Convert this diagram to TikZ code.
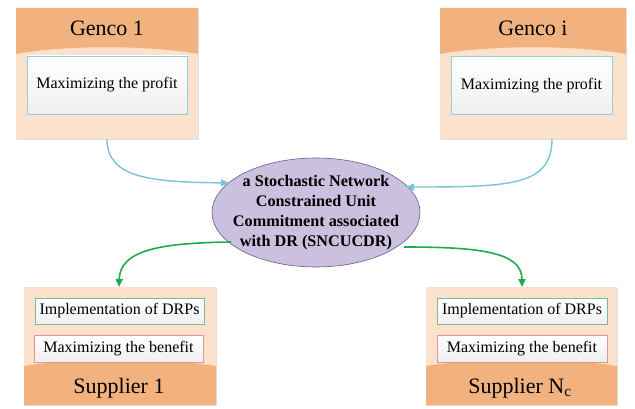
\documentclass[tikz,border=0pt]{standalone}
\usepackage{fontspec}
\setmainfont{Liberation Serif}
\usetikzlibrary{shapes.geometric,arrows.meta,shadows}
\definecolor{hdr}{RGB}{241,178,128}
\definecolor{body}{RGB}{252,225,204}
\definecolor{bluebd}{RGB}{146,205,220}
\definecolor{greenbd}{RGB}{120,190,140}
\definecolor{redbd}{RGB}{225,150,150}
\definecolor{ellfill}{RGB}{203,192,222}
\definecolor{ellbd}{RGB}{95,95,140}
\definecolor{bluearr}{RGB}{120,196,212}
\definecolor{greenarr}{RGB}{30,170,80}
\tikzset{
  outer/.style={fill=body, draw=none, drop shadow={shadow xshift=1pt,shadow yshift=-1pt,opacity=0.25}},
  innerbox/.style={draw=#1, line width=0.8pt, top color=white, bottom color=blue!4!gray!12, inner sep=0pt, font=\fontsize{16}{19}\selectfont, text=black},
  title/.style={font=\fontsize{22}{25}\selectfont, text=black},
  bluearrow/.style={draw=bluearr, line width=1.4pt, -{Triangle[length=8pt,width=7pt]}},
  greenarrow/.style={draw=greenarr, line width=1.6pt, -{Triangle[length=8pt,width=7pt]}},
}
\begin{document}
\begin{tikzpicture}[x=1pt,y=-1pt]
\useasboundingbox (0,0) rectangle (635,409);
% Genco 1
\fill[outer] (16,8) rectangle (198,139);
\fill[hdr] (16,8) -- (198,8) -- (198,54) .. controls (150,45) and (64,45) .. (16,54) -- cycle;
\node[title] (g1t) at (107,28) {Genco 1};
\node[innerbox=bluebd, minimum width=160pt, minimum height=58pt] (g1b) at (107,85) {Maximizing the profit};
\coordinate (g1o) at (107,139);
% Genco i
\fill[outer] (440,8) rectangle (626,139);
\fill[hdr] (440,8) -- (626,8) -- (626,54) .. controls (577,45) and (489,45) .. (440,54) -- cycle;
\node[title] (git) at (533,28) {Genco i};
\node[innerbox=bluebd, minimum width=161pt, minimum height=58pt] (gib) at (531.5,85.5) {Maximizing the profit};
\coordinate (gio) at (552,139);
% Supplier 1
\fill[outer] (24,287) rectangle (216,405);
\fill[hdr] (24,366) .. controls (80,357) and (160,357) .. (216,366) -- (216,405) -- (24,405) -- cycle;
\node[innerbox=greenbd, minimum width=169pt, minimum height=26pt] (s1a) at (119.5,311) {Implementation of DRPs};
\node[innerbox=redbd, minimum width=169pt, minimum height=27pt] (s1b) at (118.5,348.5) {Maximizing the benefit};
\node[title] (s1t) at (119,388) {Supplier 1};
\coordinate (s1i) at (119,287);
% Supplier Nc
\fill[outer] (426,287) rectangle (617,405);
\fill[hdr] (426,366) .. controls (482,357) and (561,357) .. (617,366) -- (617,405) -- (426,405) -- cycle;
\node[innerbox=greenbd, minimum width=170pt, minimum height=26pt] (sna) at (522,311) {Implementation of DRPs};
\node[innerbox=redbd, minimum width=170pt, minimum height=27pt] (snb) at (522,348.5) {Maximizing the benefit};
\node[title] (snt) at (520,388) {Supplier N\textsubscript{c}};
\coordinate (sni) at (522,287);
% Ellipse
\node[ellipse, fill=ellfill, draw=ellbd, line width=0.6pt, minimum width=208pt, minimum height=109pt, inner sep=0pt] (el) at (316,212.5) {};
\node[align=center, font=\bfseries\fontsize{16.2}{20}\selectfont, text=black] (elt) at (316,213) {a Stochastic Network\\Constrained Unit\\Commitment associated\\with DR (SNCUCDR)};
% arrows
\coordinate (e1) at (229,183);
\coordinate (e2) at (406,187);
\coordinate (e3) at (231,242);
\coordinate (e4) at (404,247);
\draw[bluearrow] (g1o) .. controls (107,178) and (150,182) .. (e1);
\draw[bluearrow] (gio) .. controls (552,186) and (510,187) .. (e2);
\draw[greenarrow] (e3) .. controls (160,243) and (120,250) .. (s1i);
\draw[greenarrow] (e4) .. controls (480,247) and (522,252) .. (sni);
\end{tikzpicture}
\end{document}
